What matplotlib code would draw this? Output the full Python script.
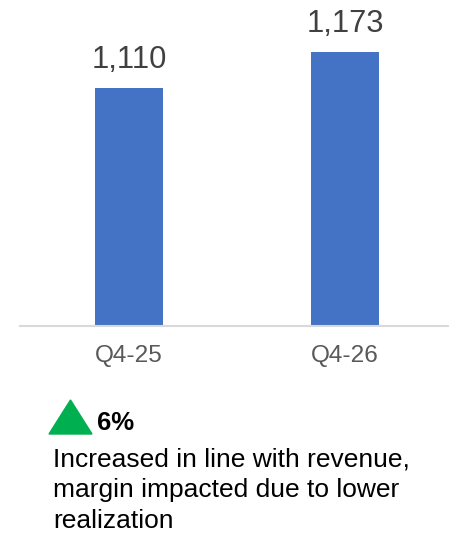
import matplotlib
matplotlib.use('Agg')
import matplotlib.pyplot as plt
from matplotlib.patches import Polygon

plt.rcParams['font.family'] = ['Liberation Sans', 'DejaVu Sans']

# data
categories = ['Q4-25', 'Q4-26']
values = [1110, 1173]
change_label = '6%'
note_lines = ['Increased in line with revenue,',
              'margin impacted due to lower',
              'realization']

W, H = 449, 541


def fx(px):
    return px / W


def fy(py):
    return 1 - py / H


fig = plt.figure(figsize=(W / 100, H / 100), dpi=100)

# axes: baseline at y=326 px, spans x 20..449 px
ax = fig.add_axes([fx(20), fy(326), fx(449) - fx(20), fy(0) - fy(326)])
ymin = 700
ax.set_ylim(ymin, ymin + 326 / 0.5793)
ax.set_xlim(-0.504, 1.48)

x = range(len(categories))
bars = ax.bar(x, values, width=0.313, color='#4472C4')
for b, v in zip(bars, values):
    ax.annotate('{:,}'.format(v), (b.get_x() + b.get_width() / 2, v),
                xytext=(0, 14.4), textcoords='offset points',
                ha='center', va='baseline', fontsize=22.2, color='#404040')

ax.set_xticks(list(x))
ax.set_xticklabels(categories, fontsize=17.6, color='#595959')
ax.tick_params(axis='x', length=0, pad=14)
ax.set_yticks([])
for s in ['top', 'right', 'left']:
    ax.spines[s].set_visible(False)
ax.spines['bottom'].set_color('#D9D9D9')
ax.spines['bottom'].set_linewidth(1.5)

# green up-triangle and change text
tri = Polygon([[fx(49), fy(434)], [fx(92), fy(434)], [fx(70.5), fy(400)]],
              closed=True, transform=fig.transFigure, color='#00B050')
fig.add_artist(tri)
fig.text(fx(97), fy(430), change_label, fontsize=18.5, fontweight='bold',
         color='black', va='baseline', ha='left')
for i, line in enumerate(note_lines):
    fig.text(fx(53), fy(467 + 30.5 * i), line, fontsize=19, color='black',
             va='baseline', ha='left')

fig.savefig('out.png', dpi=100)
